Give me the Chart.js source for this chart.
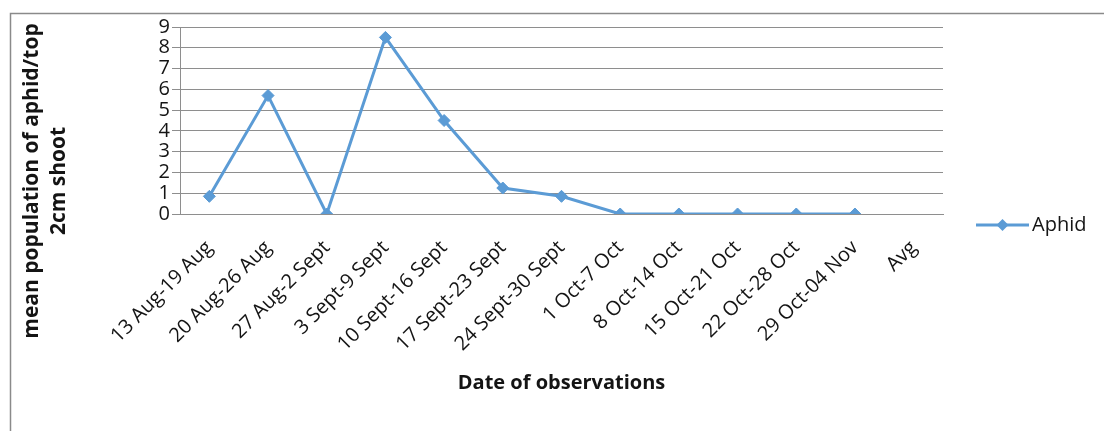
<!DOCTYPE html>
<html>
<head>
<meta charset="utf-8">
<script src="https://cdn.jsdelivr.net/npm/chart.js@4/dist/chart.umd.min.js"></script>
<style>
  html, body { margin: 0; padding: 0; background: #ffffff; }
  #wrap { width: 1104px; height: 431px; }
</style>
</head>
<body>
<div id="wrap"><canvas id="c" width="1104" height="431"></canvas></div>
<script>
// Weekly observation windows (plus the average column)
const categories = [
  '13 Aug-19 Aug', '20 Aug-26 Aug', '27 Aug-2 Sept', '3 Sept-9 Sept',
  '10 Sept-16 Sept', '17 Sept-23 Sept', '24 Sept-30 Sept', '1 Oct-7 Oct',
  '8 Oct-14 Oct', '15 Oct-21 Oct', '22 Oct-28 Oct', '29 Oct-04 Nov', 'Avg'
];

// Mean aphid count per top 2 cm shoot
const aphid = [0.85, 5.7, 0, 8.5, 4.5, 1.25, 0.85, 0, 0, 0, 0, 0, null];

const yTicks = [0, 1, 2, 3, 4, 5, 6, 7, 8, 9];

const seriesName = 'Aphid';
const xTitle = 'Date of observations';
const yTitleLines = ['mean population of aphid/top', '2cm shoot'];

const BLUE = '#5B9BD5';
const GRID = '#8e8e8e';
const TEXT = '#141414';
const FONT = '"Open Sans", Lato, sans-serif';

// Frame, axis titles and legend drawn around the plot
const decorations = {
  id: 'decorations',
  beforeDraw(chart) {
    const ctx = chart.ctx;
    ctx.save();
    ctx.fillStyle = '#ffffff';
    ctx.fillRect(0, 0, chart.width, chart.height);
    ctx.strokeStyle = '#8a8a8a';
    ctx.lineWidth = 1.5;
    ctx.strokeRect(10.5, 13.5, chart.width + 50, chart.height + 50);
    ctx.restore();
  },
  afterDraw(chart) {
    const ctx = chart.ctx;
    const area = chart.chartArea;
    ctx.save();
    ctx.fillStyle = TEXT;

    // x-axis title
    ctx.font = 'bold 20px ' + FONT;
    ctx.textAlign = 'center';
    ctx.textBaseline = 'middle';
    ctx.fillText(xTitle, (area.left + area.right) / 2, 383);

    // y-axis title, two lines rotated
    ctx.font = 'bold 21px ' + FONT;
    ctx.save();
    ctx.translate(0, 181);
    ctx.rotate(-Math.PI / 2);
    ctx.fillText(yTitleLines[0], 0, 32);
    ctx.fillText(yTitleLines[1], 0, 59);
    ctx.restore();

    // legend entry
    const ds = chart.data.datasets[0];
    const ly = 225;
    const lx0 = area.right + 33;
    const lx1 = lx0 + 53;
    ctx.strokeStyle = ds.borderColor;
    ctx.lineWidth = ds.borderWidth;
    ctx.beginPath();
    ctx.moveTo(lx0, ly);
    ctx.lineTo(lx1, ly);
    ctx.stroke();
    ctx.fillStyle = ds.pointBackgroundColor;
    const r = ds.pointRadius;
    const mx = (lx0 + lx1) / 2;
    ctx.beginPath();
    ctx.moveTo(mx, ly - r);
    ctx.lineTo(mx + r, ly);
    ctx.lineTo(mx, ly + r);
    ctx.lineTo(mx - r, ly);
    ctx.closePath();
    ctx.fill();
    ctx.fillStyle = TEXT;
    ctx.font = '20px ' + FONT;
    ctx.textAlign = 'left';
    ctx.fillText(ds.label, lx1 + 3, ly);
    ctx.restore();
  }
};

new Chart(document.getElementById('c'), {
  type: 'line',
  data: {
    labels: categories,
    datasets: [{
      label: seriesName,
      data: aphid,
      borderColor: BLUE,
      backgroundColor: BLUE,
      pointBackgroundColor: BLUE,
      pointBorderColor: BLUE,
      borderWidth: 3,
      pointStyle: 'rectRot',
      pointRadius: 6,
      pointBorderWidth: 1,
      tension: 0,
      spanGaps: false
    }]
  },
  options: {
    responsive: false,
    devicePixelRatio: 1,
    animation: false,
    layout: { padding: { left: 0, right: 161, top: 27, bottom: 0 } },
    plugins: {
      legend: { display: false },
      tooltip: { enabled: false }
    },
    scales: {
      x: {
        type: 'category',
        offset: true,
        grid: { display: false, drawTicks: false },
        border: { display: true, color: GRID, width: 1 },
        ticks: {
          color: TEXT,
          font: { family: FONT, size: 20 },
          minRotation: 45,
          maxRotation: 45,
          autoSkip: false,
          padding: 22
        },
        afterFit(scale) { scale.height = 217; }
      },
      y: {
        min: 0,
        max: 9,
        afterBuildTicks(scale) { scale.ticks = yTicks.map(v => ({ value: v })); },
        grid: { color: GRID, lineWidth: 1, drawTicks: true, tickLength: 8 },
        border: { display: true, color: GRID, width: 1 },
        ticks: {
          color: TEXT,
          font: { family: FONT, size: 20 },
          padding: 2,
          autoSkip: false
        },
        afterFit(scale) { scale.width = 180; }
      }
    }
  },
  plugins: [decorations]
});
</script>
</body>
</html>
